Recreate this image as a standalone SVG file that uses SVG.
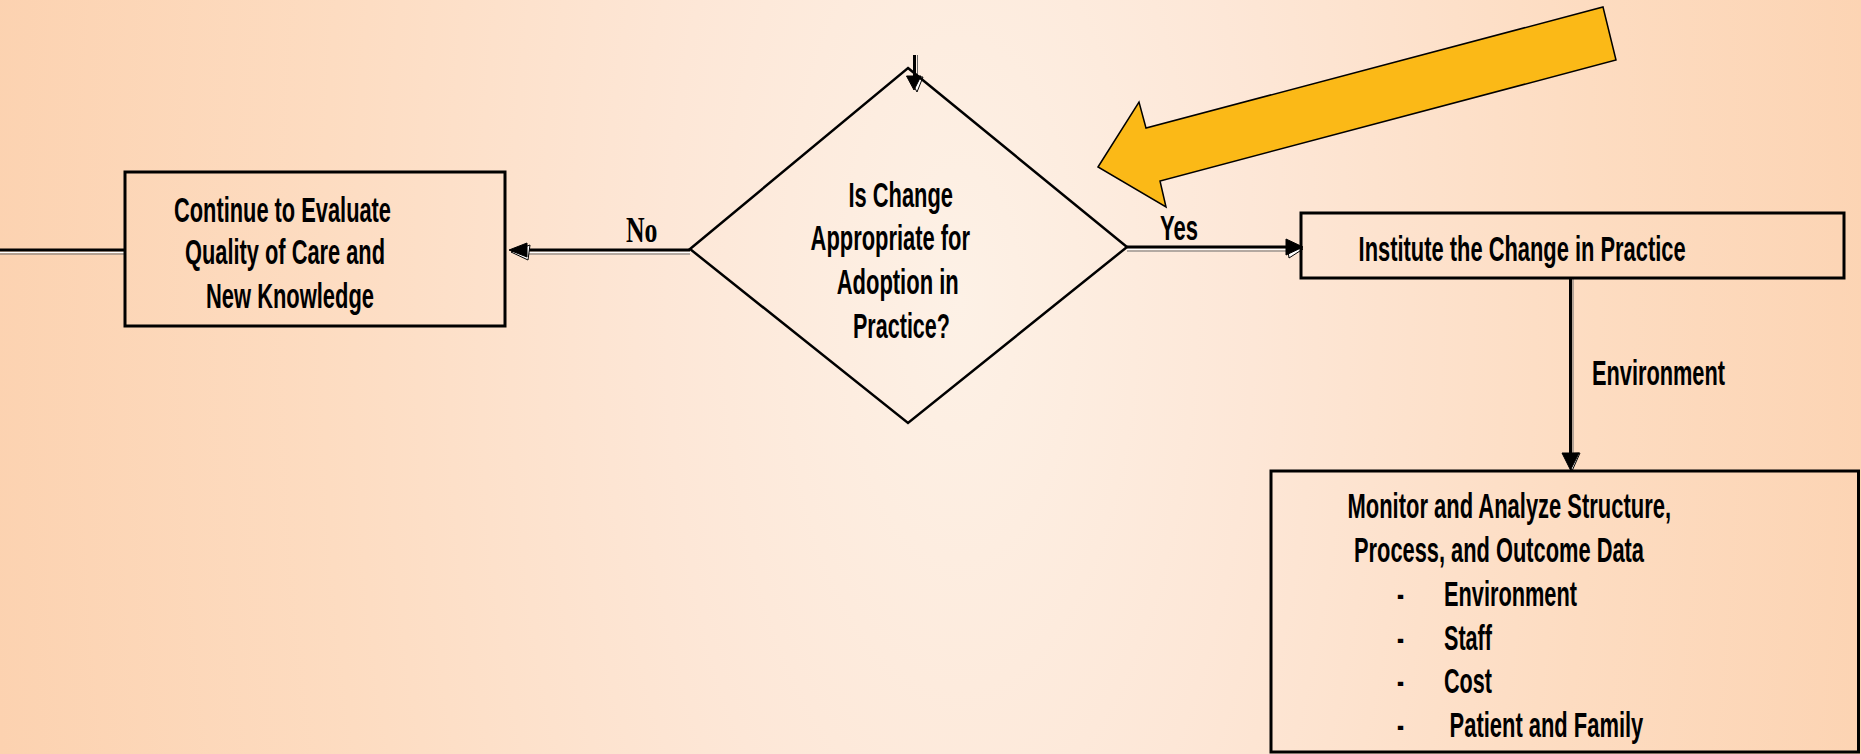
<svg xmlns="http://www.w3.org/2000/svg" width="1861" height="754" viewBox="0 0 1861 754">
<defs>
<radialGradient id="bg" gradientUnits="userSpaceOnUse" cx="960" cy="300" r="980" gradientTransform="translate(960 300) scale(1 2.2) translate(-960 -300)">
<stop offset="0" stop-color="#FDF1E6"/>
<stop offset="0.3" stop-color="#FDE7D7"/>
<stop offset="0.65" stop-color="#FDDCC1"/>
<stop offset="1" stop-color="#FCD2B0"/>
</radialGradient>
<style>
.box{fill:none;stroke:#000;stroke-width:3}
.t{font-family:"Liberation Sans Narrow","Liberation Sans",Arial,sans-serif;font-weight:bold;font-size:35px;fill:#000}
.ts{font-family:"Liberation Serif","Times New Roman",serif;font-weight:bold;font-size:35px;fill:#000}
.ln{stroke:#000;stroke-width:3;fill:none}
.lw{stroke:#fff;stroke-width:1.2;fill:none}
.lg{stroke:#6a6a6a;stroke-width:1;fill:none}
.ah{fill:#000;stroke:#000;stroke-width:1}
.as{fill:#fff;stroke:#000;stroke-width:1}
</style>
</defs>
<rect x="0" y="0" width="1861" height="754" fill="url(#bg)"/>

<g id="connectors">
  <!-- left outgoing line -->
  <line class="lg" x1="0" y1="254" x2="125" y2="254"/>
  <line class="lw" x1="0" y1="252.3" x2="125" y2="252.3"/>
  <line class="ln" x1="0" y1="250" x2="125" y2="250"/>
  <!-- No connector -->
  <line class="lg" x1="524" y1="254" x2="690" y2="254"/>
  <line class="lw" x1="524" y1="252.3" x2="690" y2="252.3"/>
  <line class="ln" x1="524" y1="250" x2="690" y2="250"/>
  <polygon class="as" points="511,252 530,245 528,260"/>
  <polygon class="ah" points="509,250 527,243 527,257"/>
  <!-- Yes connector -->
  <line class="lg" x1="1127" y1="251" x2="1288" y2="251"/>
  <line class="lw" x1="1127" y1="249.3" x2="1288" y2="249.3"/>
  <line class="ln" x1="1127" y1="247" x2="1288" y2="247"/>
  <polygon class="as" points="1303,249 1287,243 1289,258"/>
  <polygon class="ah" points="1303,247 1286,239 1286,255"/>
  <!-- top incoming arrow -->
  <line class="lg" x1="917.5" y1="55" x2="917.5" y2="78"/>
  <line class="ln" x1="914.5" y1="55" x2="914.5" y2="78"/>
  <polygon class="as" points="917,92 909,77 923,77"/>
  <polygon class="ah" points="914,90 906.5,76 921,76"/>
  <!-- Environment connector -->
  <line class="lg" x1="1573" y1="278" x2="1573" y2="455"/>
  <line class="ln" x1="1570.5" y1="278" x2="1570.5" y2="455"/>
  <polygon class="as" points="1572,471 1564,454 1580,453"/>
  <polygon class="ah" points="1570.5,470 1562,453 1579,453"/>
</g>

<g id="node-continue">
  <rect class="box" x="125" y="172" width="380" height="154"/>
  <text class="t" x="174" y="222" textLength="217" lengthAdjust="spacingAndGlyphs">Continue to Evaluate</text>
  <text class="t" x="185" y="264" textLength="200" lengthAdjust="spacingAndGlyphs">Quality of Care and</text>
  <text class="t" x="206" y="308" textLength="168" lengthAdjust="spacingAndGlyphs">New Knowledge</text>
</g>

<g id="node-decision">
  <polygon fill="none" stroke="#000" stroke-width="2.5" points="908,68 1127,247 908,423 690,249"/>
  <text class="t" x="848.5" y="207" textLength="104.5" lengthAdjust="spacingAndGlyphs">Is Change</text>
  <text class="t" x="810.6" y="250" textLength="159.4" lengthAdjust="spacingAndGlyphs">Appropriate for</text>
  <text class="t" x="836.7" y="294" textLength="122" lengthAdjust="spacingAndGlyphs">Adoption in</text>
  <text class="t" x="853" y="338" textLength="97" lengthAdjust="spacingAndGlyphs">Practice?</text>
</g>

<g id="label-no">
  <text class="ts" x="626" y="242" textLength="31.5" lengthAdjust="spacingAndGlyphs">No</text>
</g>
<g id="label-yes">
  <text class="t" x="1160" y="240" textLength="38" lengthAdjust="spacingAndGlyphs">Yes</text>
</g>

<g id="node-institute">
  <rect class="box" x="1301" y="213" width="543" height="65"/>
  <text class="t" x="1358.6" y="261" textLength="327" lengthAdjust="spacingAndGlyphs">Institute the Change in Practice</text>
</g>

<g id="label-environment">
  <text class="t" x="1592" y="385" textLength="133" lengthAdjust="spacingAndGlyphs">Environment</text>
</g>

<g id="node-monitor">
  <rect class="box" x="1271" y="471" width="587.5" height="281"/>
  <text class="t" x="1347.5" y="518" textLength="323.5" lengthAdjust="spacingAndGlyphs">Monitor and Analyze Structure,</text>
  <text class="t" x="1354" y="562" textLength="290" lengthAdjust="spacingAndGlyphs">Process, and Outcome Data</text>
  <text class="t" x="1397" y="606" textLength="7" lengthAdjust="spacingAndGlyphs" font-weight="normal">-</text>
  <text class="t" x="1444" y="606" textLength="133" lengthAdjust="spacingAndGlyphs">Environment</text>
  <text class="t" x="1397" y="650" textLength="7" lengthAdjust="spacingAndGlyphs" font-weight="normal">-</text>
  <text class="t" x="1444" y="650" textLength="48" lengthAdjust="spacingAndGlyphs">Staff</text>
  <text class="t" x="1397" y="693" textLength="7" lengthAdjust="spacingAndGlyphs" font-weight="normal">-</text>
  <text class="t" x="1444" y="693" textLength="48" lengthAdjust="spacingAndGlyphs">Cost</text>
  <text class="t" x="1397" y="737" textLength="7" lengthAdjust="spacingAndGlyphs" font-weight="normal">-</text>
  <text class="t" x="1449.6" y="737" textLength="193.7" lengthAdjust="spacingAndGlyphs">Patient and Family</text>
</g>

<g id="callout-arrow">
  <polygon fill="#FBB917" stroke="#000" stroke-width="1.5" stroke-linejoin="miter" points="1098,167 1139,102 1146,128 1603,7 1616,60 1160,181 1166,207"/>
</g>
</svg>
